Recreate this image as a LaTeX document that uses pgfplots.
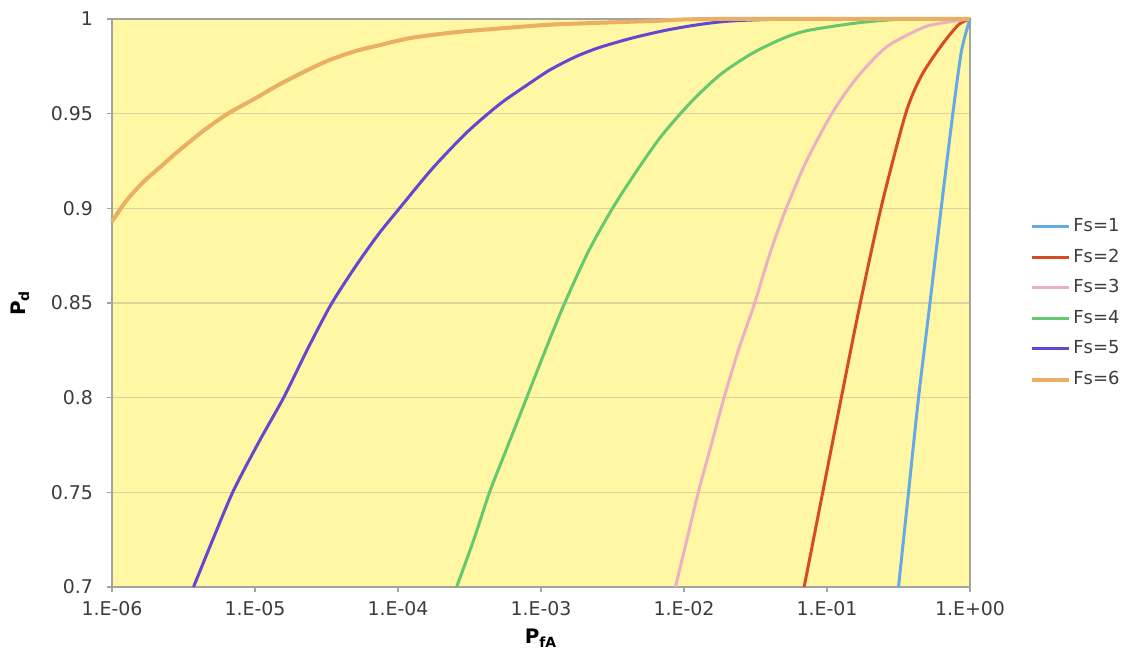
\documentclass[border=0pt]{standalone}
\usepackage{fontspec}
\setmainfont{DejaVu Sans}
\usepackage{pgfplots}
\pgfplotsset{compat=1.18}
\usetikzlibrary{calc}
\definecolor{bgyellow}{HTML}{FFF7A3}
\definecolor{gridc}{HTML}{D9D39C}
\definecolor{framec}{HTML}{A3A3A0}
\definecolor{tickc}{HTML}{3C3C3C}
\definecolor{cA}{HTML}{64AAE6}
\definecolor{cB}{HTML}{D64A2A}
\definecolor{cC}{HTML}{EBB0C3}
\definecolor{cD}{HTML}{66C86E}
\definecolor{cE}{HTML}{6446D2}
\definecolor{cF}{HTML}{EBAF64}
\begin{document}
\begin{tikzpicture}
\begin{axis}[
  name=ax,
  scale only axis,
  width=429bp, height=284bp,
  xmin=-6, xmax=0, ymin=0.7, ymax=1,
  clip=false,
  axis background/.style={fill=bgyellow},
  axis line style={framec, line width=0.9bp},
  xtick={-6,-5,-4,-3,-2,-1,0},
  xticklabels={1.E-06,1.E-05,1.E-04,1.E-03,1.E-02,1.E-01,1.E+00},
  ytick={0.7,0.75,0.8,0.85,0.9,0.95,1},
  yticklabels={0.7,0.75,0.8,0.85,0.9,0.95,1},
  tick align=outside,
  major tick length=2.5bp,
  tick style={framec, line width=0.6bp},
  xtick pos=bottom, ytick pos=left,
  ymajorgrids,
  major grid style={gridc, line width=0.7bp},
  ticklabel style={font=\fontsize{9.5}{11}\selectfont, text=tickc},
  yticklabel style={xshift=-3.5bp},
  xticklabel style={yshift=-1bp},
  xlabel={\textbf{P\textsubscript{fA}}},
  ylabel={\textbf{P\textsubscript{d}}},
  label style={font=\fontsize{10}{12}\selectfont, text=black},
  xlabel style={at={(axis description cs:0.5,0)}, anchor=center, yshift=-25.5bp},
  ylabel style={at={(axis description cs:0,0.5)}, anchor=center, yshift=46bp},
  legend style={draw=none, fill=none, at={(axis description cs:1,0.5)}, anchor=west, xshift=27bp,
    font=\fontsize{9}{11}\selectfont, text=tickc, row sep=4.3bp,
    nodes={inner sep=1bp, text height=7bp, text depth=2bp}},
  legend cell align=left,
  legend image code/.code={\draw[#1] (0bp,0bp) -- (18.5bp,0bp);},
  every axis plot/.append style={smooth, tension=0.45},
]
\addplot[cA, line width=1.5bp] coordinates {
(-0.50,0.700) (-0.43,0.750) (-0.36,0.800) (-0.28,0.850) (-0.20,0.901) (-0.12,0.950) (-0.06,0.983) (0,1.0)};
\addlegendentry{Fs=1}
\addplot[cB, line width=1.5bp] coordinates {
(-1.16,0.700) (-1.03,0.750) (-0.90,0.800) (-0.77,0.849) (-0.62,0.901) (-0.45,0.950) (-0.34,0.970) (-0.20,0.986) (-0.08,0.997) (0,1.0)};
\addlegendentry{Fs=2}
\addplot[cC, line width=1.5bp] coordinates {
(-2.06,0.700) (-1.98,0.725) (-1.90,0.750) (-1.81,0.775) (-1.72,0.800) (-1.62,0.825) (-1.51,0.849) (-1.40,0.876) (-1.29,0.899) (-1.15,0.924) (-0.99,0.947) (-0.88,0.960) (-0.78,0.970) (-0.66,0.980) (-0.55,0.987) (-0.31,0.996) (-0.10,0.999) (0,1.0)};
\addlegendentry{Fs=3}
\addplot[cD, line width=1.5bp] coordinates {
(-3.59,0.700) (-3.47,0.725) (-3.36,0.750) (-3.23,0.775) (-3.10,0.800) (-2.97,0.825) (-2.84,0.849) (-2.67,0.877) (-2.50,0.900) (-2.32,0.921) (-2.15,0.939) (-1.94,0.957) (-1.74,0.971) (-1.52,0.982) (-1.30,0.990) (-1.13,0.994) (-0.78,0.998) (-0.45,1.0) (0,1.0)};
\addlegendentry{Fs=4}
\addplot[cE, line width=1.5bp] coordinates {
(-5.43,0.700) (-5.29,0.726) (-5.15,0.751) (-4.97,0.777) (-4.80,0.800) (-4.63,0.826) (-4.47,0.849) (-4.30,0.869) (-4.14,0.886) (-3.99,0.900) (-3.76,0.921) (-3.52,0.940) (-3.29,0.955) (-3.10,0.965) (-2.94,0.973) (-2.76,0.980) (-2.59,0.985) (-2.36,0.990) (-2.13,0.994) (-1.90,0.997) (-1.66,0.999) (-1.20,1.0) (0,1.0)};
\addlegendentry{Fs=5}
\addplot[cF, line width=2bp] coordinates {
(-6.00,0.893) (-5.90,0.904) (-5.78,0.914) (-5.66,0.922) (-5.54,0.930) (-5.36,0.941) (-5.19,0.950) (-5.00,0.958) (-4.84,0.965) (-4.66,0.972) (-4.49,0.978) (-4.30,0.983) (-4.14,0.986) (-3.91,0.990) (-3.60,0.993) (-3.29,0.995) (-2.94,0.997) (-2.59,0.998) (-2.20,0.999) (-1.80,1.0) (0,1.0)};
\addlegendentry{Fs=6}
\coordinate (SW) at (rel axis cs:0,0);
\coordinate (NE) at (rel axis cs:1,1);
\end{axis}
\pgfresetboundingbox
\path[use as bounding box] ($(SW)+(-56bp,-40bp)$) rectangle ($(NE)+(82bp,9.5bp)$);
\end{tikzpicture}
\end{document}
